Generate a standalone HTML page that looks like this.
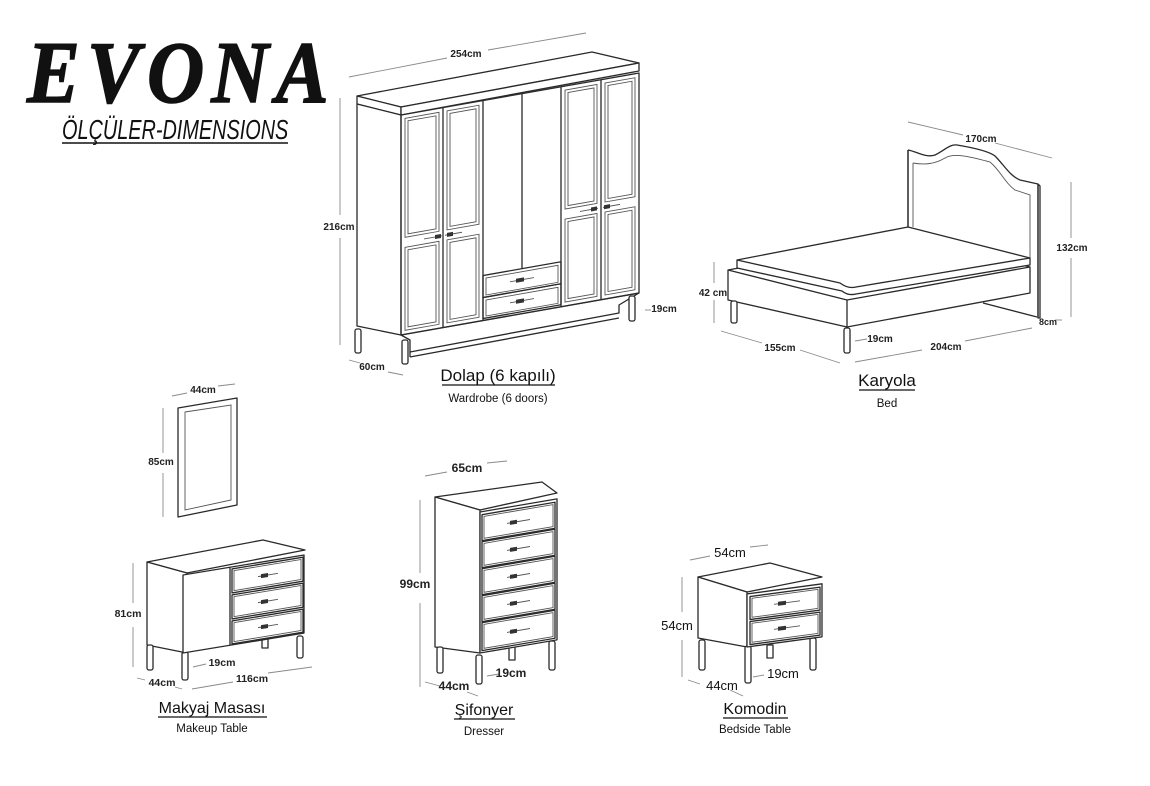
<!DOCTYPE html>
<html><head><meta charset="utf-8"><style>
html,body{margin:0;padding:0;background:#fff;}
svg{display:block;}
.o{fill:none;stroke:#2a2a2a;stroke-width:1.3;stroke-linejoin:round;}
.t{fill:none;stroke:#555;stroke-width:0.9;}
.d{fill:none;stroke:#8a8a8a;stroke-width:0.9;}
.w{fill:#fff;stroke:#2a2a2a;stroke-width:1.3;stroke-linejoin:round;}
.lb{font-family:"Liberation Sans",sans-serif;font-weight:bold;fill:#222;}
.tt{font-family:"Liberation Sans",sans-serif;fill:#111;}
.h{fill:#333;}
</style></head><body>
<svg width="1150" height="786" viewBox="0 0 1150 786" xmlns="http://www.w3.org/2000/svg">
<!-- LOGO -->
<g transform="translate(27 102) scale(0.9 1)"><text x="0" y="0" font-family="Liberation Serif,serif" font-weight="bold" font-style="italic" font-size="88" letter-spacing="8" fill="#111" stroke="#111" stroke-width="1.5">EVONA</text></g>
<g transform="translate(62 139) scale(0.71 1)"><text x="0" y="0" font-family="Liberation Sans,sans-serif" font-style="italic" font-size="28" fill="#111">ÖLÇÜLER-DIMENSIONS</text></g>
<line x1="62" y1="143" x2="288" y2="143" stroke="#111" stroke-width="1.6"/>

<!-- WARDROBE -->
<polygon class="w" points="357,96 592,52 639,63 401,107"/>
<polygon class="w" points="357,96 401,107 401,115 357,104"/>
<polygon class="w" points="401,107 639,63 639,71 401,115"/>
<polygon class="w" points="357,104 401,115 401,335 357,326"/>
<polygon class="w" points="401,335 639,293 619,305 619,313 410,352 410,340"/>
<line class="o" x1="410" y1="352" x2="410" y2="357"/><line class="o" x1="410" y1="357" x2="619" y2="318"/>
<rect class="w" x="355" y="329" width="6" height="24" rx="2"/>
<rect class="w" x="402" y="340" width="6" height="24" rx="2"/>
<rect class="w" x="629" y="296" width="6" height="25" rx="2"/>
<g transform="matrix(1,-0.1765,0,1,0,70.8)">
 <rect class="o" x="401" y="115" width="238" height="220"/>
 <line class="o" x1="443" y1="115" x2="443" y2="335"/><line class="o" x1="483" y1="115" x2="483" y2="335"/>
 <line class="o" x1="522" y1="115" x2="522" y2="290"/><line class="o" x1="561" y1="115" x2="561" y2="335"/>
 <line class="o" x1="601" y1="115" x2="601" y2="335"/>
 <g class="t">
 <rect x="405" y="119" width="34" height="119"/><rect x="408" y="122" width="28" height="113"/>
 <rect x="405" y="248" width="34" height="83"/><rect x="408" y="251" width="28" height="77"/>
 <rect x="447" y="119" width="32" height="119"/><rect x="450" y="122" width="26" height="113"/>
 <rect x="447" y="248" width="32" height="83"/><rect x="450" y="251" width="26" height="77"/>
 <rect x="565" y="119" width="32" height="119"/><rect x="568" y="122" width="26" height="113"/>
 <rect x="565" y="248" width="32" height="83"/><rect x="568" y="251" width="26" height="77"/>
 <rect x="605" y="119" width="30" height="119"/><rect x="608" y="122" width="24" height="113"/>
 <rect x="605" y="248" width="30" height="83"/><rect x="608" y="251" width="24" height="77"/>
 </g>
 <rect class="o" x="483" y="290" width="78" height="22"/><rect class="t" x="486" y="293" width="72" height="17"/>
 <rect class="o" x="483" y="312" width="78" height="21"/><rect class="t" x="486" y="315" width="72" height="16"/>
 <g class="t"><line x1="424" y1="243" x2="442" y2="243"/><line x1="445" y1="243" x2="462" y2="243"/>
 <line x1="580" y1="243" x2="598" y2="243"/><line x1="603" y1="243" x2="620" y2="243"/>
 <line x1="510" y1="301" x2="534" y2="301"/><line x1="510" y1="322" x2="534" y2="322"/></g>
 <rect class="h" x="435" y="241" width="6" height="4"/><rect class="h" x="447" y="241" width="6" height="4"/>
 <rect class="h" x="591" y="241" width="6" height="4"/><rect class="h" x="604" y="241" width="6" height="4"/>
 <rect class="h" x="516" y="299" width="8" height="4"/><rect class="h" x="516" y="320" width="8" height="4"/>
</g>
<g class="d"><line x1="349" y1="77" x2="447" y2="58"/><line x1="488" y1="50" x2="586" y2="33"/>
<line x1="340" y1="98" x2="340" y2="215"/><line x1="340" y1="238" x2="340" y2="345"/>
<line x1="349" y1="360" x2="360" y2="363"/><line x1="388" y1="372" x2="403" y2="375"/>
<line x1="645" y1="310" x2="651" y2="310"/></g>
<text class="lb" x="466" y="57" font-size="10" text-anchor="middle">254cm</text>
<text class="lb" x="339" y="230" font-size="10" text-anchor="middle">216cm</text>
<text class="lb" x="372" y="370" font-size="10" text-anchor="middle">60cm</text>
<text class="lb" x="664" y="312" font-size="10" text-anchor="middle">19cm</text>
<text class="tt" x="498" y="381" font-size="17" text-anchor="middle">Dolap (6 kapılı)</text>
<line x1="442" y1="385" x2="555" y2="385" stroke="#111" stroke-width="1.2"/>
<text class="tt" x="498" y="402" font-size="11.5" text-anchor="middle">Wardrobe (6 doors)</text>

<!-- BED -->
<path class="w" d="M908,150 C918,152 926,158 935,155 C945,150 950,144 957,145 C975,148 990,152 995,156 C1004,165 1010,176 1020,180 L1038,184 L1040,186 L1040,318 L1038,318 L1038,184 M908,150 L908,227"/>
<path class="o" d="M1038,318 L1038,184"/>
<line class="o" x1="908" y1="150" x2="908" y2="227"/>
<path class="t" d="M913,163 C925,165 935,164 945,158 C955,152 975,158 990,162 C1000,170 1005,183 1015,190 L1030,195 L1030,265"/>
<line class="t" x1="913" y1="163" x2="913" y2="227"/>
<polygon class="w" points="728,270 908,237 1030,267 1030,293 847,327 728,300"/>
<line class="o" x1="728" y1="270" x2="847" y2="300"/><line class="o" x1="847" y1="300" x2="1030" y2="267"/>
<line class="o" x1="847" y1="300" x2="847" y2="327"/>
<path class="w" d="M737,260 L908,227 L1030,258 L1030,265 L856,294 Q848,296 842,291 L737,268 Z"/>
<path class="o" d="M737,260 L840,283 Q848,289 856,287 L1030,258"/>
<line class="o" x1="983" y1="303" x2="1037" y2="317"/>
<rect class="w" x="731" y="301" width="6" height="22" rx="2"/>
<rect class="w" x="844" y="328" width="6" height="25" rx="2"/>
<g class="d"><line x1="908" y1="122" x2="963" y2="135"/><line x1="995" y1="143" x2="1052" y2="158"/>
<line x1="1071" y1="182" x2="1071" y2="238"/><line x1="1071" y1="258" x2="1071" y2="317"/>
<line x1="714" y1="262" x2="714" y2="283"/><line x1="714" y1="300" x2="714" y2="323"/>
<line x1="1055" y1="320" x2="1062" y2="320"/>
<line x1="721" y1="331" x2="762" y2="343"/><line x1="800" y1="350" x2="840" y2="363"/>
<line x1="855" y1="362" x2="922" y2="350"/><line x1="965" y1="341" x2="1032" y2="328"/>
<line x1="855" y1="341" x2="867" y2="339"/></g>
<text class="lb" x="981" y="142" font-size="10" text-anchor="middle">170cm</text>
<text class="lb" x="1072" y="251" font-size="10" text-anchor="middle">132cm</text>
<text class="lb" x="713" y="296" font-size="10" text-anchor="middle">42 cm</text>
<text class="lb" x="1048" y="325" font-size="9" text-anchor="middle">8cm</text>
<text class="lb" x="780" y="351" font-size="10" text-anchor="middle">155cm</text>
<text class="lb" x="946" y="350" font-size="10" text-anchor="middle">204cm</text>
<text class="lb" x="880" y="342" font-size="10" text-anchor="middle">19cm</text>
<text class="tt" x="887" y="386" font-size="17" text-anchor="middle">Karyola</text>
<line x1="859" y1="390" x2="915" y2="390" stroke="#111" stroke-width="1.2"/>
<text class="tt" x="887" y="407" font-size="11.5" text-anchor="middle">Bed</text>

<!-- MIRROR -->
<polygon class="w" points="178,408 237,398 237,505 178,517"/>
<polygon class="t" points="185,412 231,405 231,500 185,510"/>
<g class="d"><line x1="172" y1="396" x2="187" y2="393"/><line x1="218" y1="386" x2="235" y2="384"/>
<line x1="163" y1="408" x2="163" y2="453"/><line x1="163" y1="473" x2="163" y2="517"/></g>
<text class="lb" x="203" y="393" font-size="10" text-anchor="middle">44cm</text>
<text class="lb" x="161" y="465" font-size="10" text-anchor="middle">85cm</text>

<!-- MAKEUP TABLE -->
<polygon class="w" points="147,562 263,540 305,550 187,573"/>
<polygon class="w" points="147,562 187,573 187,653 147,645"/>
<rect class="w" x="147" y="645" width="6" height="25" rx="2"/>
<rect class="w" x="182" y="652" width="6" height="28" rx="2"/>
<rect class="w" x="297" y="636" width="6" height="22" rx="2"/>
<rect class="w" x="262" y="636" width="6" height="12"/>
<g transform="matrix(1,-0.165,0,1,0,30.2)">
 <rect class="w" x="183" y="575" width="121" height="78"/>
 <line class="o" x1="230" y1="575" x2="230" y2="653"/>
 <rect class="o" x="232" y="577" width="71" height="24"/><rect class="t" x="234" y="579" width="67" height="20"/>
 <rect class="o" x="232" y="603" width="71" height="24"/><rect class="t" x="234" y="605" width="67" height="20"/>
 <rect class="o" x="232" y="629" width="71" height="23"/><rect class="t" x="234" y="631" width="67" height="19"/>
 <g class="t"><line x1="258" y1="589" x2="278" y2="589"/><line x1="258" y1="615" x2="278" y2="615"/><line x1="258" y1="640" x2="278" y2="640"/></g>
 <rect class="h" x="261" y="587" width="7" height="4"/><rect class="h" x="261" y="613" width="7" height="4"/><rect class="h" x="261" y="638" width="7" height="4"/>
</g>
<g class="d"><line x1="133" y1="563" x2="133" y2="603"/><line x1="133" y1="627" x2="133" y2="667"/>
<line x1="137" y1="678" x2="145" y2="680"/><line x1="175" y1="687" x2="182" y2="689"/>
<line x1="192" y1="689" x2="233" y2="682"/><line x1="268" y1="673" x2="312" y2="667"/>
<line x1="193" y1="667" x2="206" y2="664"/></g>
<text class="lb" x="128" y="617" font-size="10.5" text-anchor="middle">81cm</text>
<text class="lb" x="162" y="686" font-size="10.5" text-anchor="middle">44cm</text>
<text class="lb" x="252" y="682" font-size="10.5" text-anchor="middle">116cm</text>
<text class="lb" x="222" y="666" font-size="10.5" text-anchor="middle">19cm</text>
<text class="tt" x="212" y="713" font-size="16" text-anchor="middle">Makyaj Masası</text>
<line x1="158" y1="717" x2="267" y2="717" stroke="#111" stroke-width="1.2"/>
<text class="tt" x="212" y="732" font-size="11.5" text-anchor="middle">Makeup Table</text>

<!-- DRESSER -->
<polygon class="w" points="435,497 542,482 557,493 480,510"/>
<polygon class="w" points="435,497 480,510 480,653 435,647"/>
<rect class="w" x="437" y="647" width="6" height="26" rx="2"/>
<rect class="w" x="476" y="655" width="6" height="29" rx="2"/>
<rect class="w" x="509" y="645" width="6" height="15"/>
<rect class="w" x="549" y="641" width="6" height="29" rx="2"/>
<g transform="matrix(1,-0.17,0,1,0,81.6)">
 <rect class="w" x="480" y="512" width="77" height="141"/>
 <rect class="o" x="482" y="515" width="73" height="26"/><rect class="t" x="484" y="517" width="69" height="22"/>
 <rect class="o" x="482" y="542" width="73" height="26"/><rect class="t" x="484" y="544" width="69" height="22"/>
 <rect class="o" x="482" y="569" width="73" height="26"/><rect class="t" x="484" y="571" width="69" height="22"/>
 <rect class="o" x="482" y="596" width="73" height="26"/><rect class="t" x="484" y="598" width="69" height="22"/>
 <rect class="o" x="482" y="623" width="73" height="28"/><rect class="t" x="484" y="625" width="69" height="24"/>
 <g class="t"><line x1="507" y1="528" x2="530" y2="528"/><line x1="507" y1="555" x2="530" y2="555"/><line x1="507" y1="582" x2="530" y2="582"/><line x1="507" y1="609" x2="530" y2="609"/><line x1="507" y1="637" x2="530" y2="637"/></g>
 <rect class="h" x="510" y="526" width="7" height="4"/><rect class="h" x="510" y="553" width="7" height="4"/><rect class="h" x="510" y="580" width="7" height="4"/><rect class="h" x="510" y="607" width="7" height="4"/><rect class="h" x="510" y="635" width="7" height="4"/>
</g>
<g class="d"><line x1="425" y1="476" x2="447" y2="472"/><line x1="487" y1="463" x2="507" y2="461"/>
<line x1="420" y1="500" x2="420" y2="573"/><line x1="420" y1="603" x2="420" y2="687"/>
<line x1="425" y1="682" x2="440" y2="686"/><line x1="467" y1="692" x2="478" y2="696"/>
<line x1="487" y1="676" x2="499" y2="674"/></g>
<text class="lb" x="467" y="472" font-size="12" text-anchor="middle">65cm</text>
<text class="lb" x="415" y="588" font-size="12" text-anchor="middle">99cm</text>
<text class="lb" x="454" y="690" font-size="12" text-anchor="middle">44cm</text>
<text class="lb" x="511" y="677" font-size="12" text-anchor="middle">19cm</text>
<text class="tt" x="484" y="715" font-size="16" text-anchor="middle">Şifonyer</text>
<line x1="454" y1="719" x2="515" y2="719" stroke="#111" stroke-width="1.2"/>
<text class="tt" x="484" y="735" font-size="11.5" text-anchor="middle">Dresser</text>

<!-- KOMODIN -->
<polygon class="w" points="698,577 770,563 822,577 747,592"/>
<polygon class="w" points="698,577 747,592 747,647 698,638"/>
<rect class="w" x="699" y="640" width="6" height="30" rx="2"/>
<rect class="w" x="745" y="646" width="6" height="37" rx="2"/>
<rect class="w" x="810" y="638" width="6" height="32" rx="2"/>
<rect class="w" x="767" y="645" width="6" height="13"/>
<g transform="matrix(1,-0.135,0,1,0,100.8)">
 <rect class="w" x="747" y="594" width="75" height="53"/>
 <rect class="o" x="750" y="597" width="70" height="23"/><rect class="t" x="752" y="599" width="66" height="19"/>
 <rect class="o" x="750" y="622" width="70" height="23"/><rect class="t" x="752" y="624" width="66" height="19"/>
 <g class="t"><line x1="774" y1="608" x2="800" y2="608"/><line x1="774" y1="633" x2="800" y2="633"/></g>
 <rect class="h" x="778" y="606" width="8" height="4"/><rect class="h" x="778" y="631" width="8" height="4"/>
</g>
<g class="d"><line x1="690" y1="560" x2="710" y2="556"/><line x1="750" y1="547" x2="768" y2="545"/>
<line x1="682" y1="577" x2="682" y2="612"/><line x1="682" y1="640" x2="682" y2="677"/>
<line x1="688" y1="680" x2="700" y2="684"/><line x1="730" y1="690" x2="743" y2="696"/>
<line x1="753" y1="677" x2="764" y2="675"/></g>
<text class="tt" x="730" y="557" font-size="13" text-anchor="middle">54cm</text>
<text class="tt" x="677" y="630" font-size="13" text-anchor="middle">54cm</text>
<text class="tt" x="722" y="690" font-size="13" text-anchor="middle">44cm</text>
<text class="tt" x="783" y="678" font-size="13" text-anchor="middle">19cm</text>
<text class="tt" x="755" y="714" font-size="16" text-anchor="middle">Komodin</text>
<line x1="723" y1="718" x2="788" y2="718" stroke="#111" stroke-width="1.2"/>
<text class="tt" x="755" y="733" font-size="11.5" text-anchor="middle">Bedside Table</text>
</svg>
</body></html>
